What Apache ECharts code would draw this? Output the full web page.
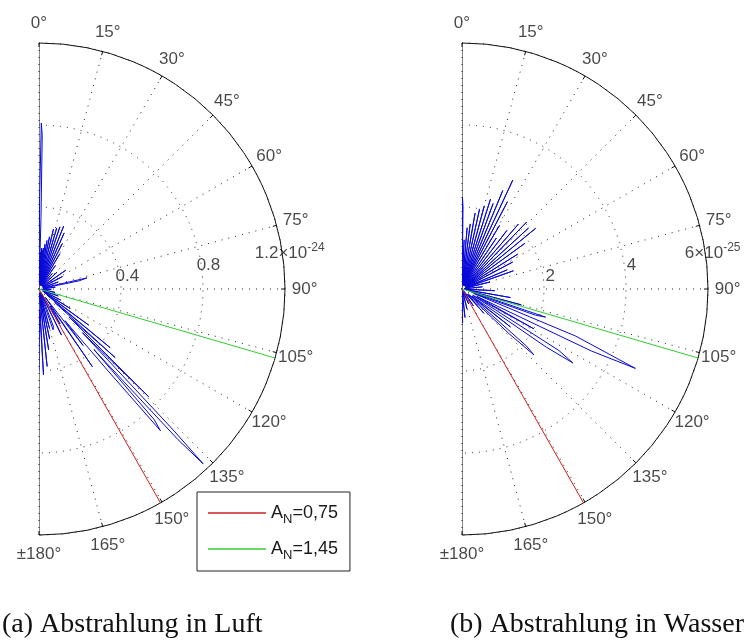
<!DOCTYPE html>
<html>
<head>
<meta charset="utf-8">
<script src="https://cdn.jsdelivr.net/npm/echarts@6/dist/echarts.min.js"></script>
<style>
html,body{margin:0;padding:0;background:#fff;}
#c{width:746px;height:644px;}
</style>
</head>
<body>
<div id="c"></div>
<script>
// ---- data ----
const angleTicks = [0, 15, 30, 45, 60, 75, 90, 105, 120, 135, 150, 165, 180];
const angleTickLabels = ['0°', '15°', '30°', '45°', '60°', '75°', '90°', '105°', '120°', '135°', '150°', '165°', '±180°'];
const airMax = 1.2;            // ×10^-24
const airRings = [0.4, 0.8, 1.2];
const airRingLabels = ['0.4', '0.8', '1.2×10|-24'];
const waterMax = 6;            // ×10^-25
const waterRings = [2, 4, 6];
const waterRingLabels = ['2', '4', '6×10|-25'];
const legendNames = ['A_N=0,75', 'A_N=1,45'];
const redAngle = 150.4;
const greenAngle = 106.3;
const captions = ['(a) Abstrahlung in Luft', '(b) Abstrahlung in Wasser'];

// radiation pattern in air: [angle in degrees, radius ×10^-24]
const airPattern = [
  [0, 0.0], [0.4, 0.45], [0.8, 0.81], [1.2, 0.75], [1.6, 0.35], [2.0, 0.05],
  [2.6, 0.18], [3.2, 0.02], [3.8, 0.2], [4.4, 0.03], [5.0, 0.19], [5.6, 0.02],
  [6.2, 0.2], [6.8, 0.03], [7.6, 0.22], [8.4, 0.02], [9.4, 0.24], [10.2, 0.03],
  [11.4, 0.26], [12.2, 0.02], [13.6, 0.3], [14.4, 0.03], [16.2, 0.31], [17.0, 0.02],
  [18.6, 0.32], [19.4, 0.03], [21.4, 0.33], [22.4, 0.02], [24.2, 0.3], [25.2, 0.02],
  [27.2, 0.25], [28.4, 0.02], [30.6, 0.2], [32.0, 0.02], [35, 0.14], [37, 0.02],
  [40.5, 0.1], [43, 0.02], [47, 0.12], [50, 0.02], [55, 0.16], [58, 0.02],
  [62, 0.13], [65, 0.02], [70, 0.1], [74, 0.02], [77, 0.24], [78.5, 0.2], [80, 0.02],
  [84, 0.08], [88, 0.02], [93, 0.06], [97, 0.01], [102, 0.08], [106, 0.02],
  [110, 0.1], [113, 0.02], [117, 0.12], [119.5, 0.02], [122, 0.18], [124, 0.03],
  [126, 0.3], [127.5, 0.05], [129.5, 0.45], [130.5, 0.1], [132, 0.5], [133, 0.2],
  [134.5, 0.75], [135.2, 0.3], [136.4, 0.95], [136.8, 1.17], [137.3, 1.0], [137.8, 0.4],
  [138.6, 0.85], [139.4, 0.91], [139.9, 0.5], [140.6, 0.2], [142, 0.35], [143, 0.05],
  [145.5, 0.46], [146.5, 0.1], [149, 0.2], [151, 0.02], [154, 0.25], [156, 0.02],
  [159, 0.2], [161, 0.21], [162.5, 0.02], [165, 0.2], [166.5, 0.02], [168, 0.25],
  [169.5, 0.02], [171, 0.3], [172.5, 0.02], [174, 0.38], [175.5, 0.02], [177, 0.42],
  [178.5, 0.1], [180, 0.4]
];

// radiation pattern in water: [angle in degrees, radius ×10^-25]
const waterPattern = [
  [0, 0], [0.3, 2.24], [0.7, 2.0], [1.2, 0.3], [2.5, 1.2], [3.5, 0.1], [4.8, 1.5],
  [5.8, 0.1], [7.2, 1.6], [8.2, 0.1], [9.8, 1.88], [10.8, 0.1], [12.4, 2.0],
  [13.4, 0.1], [15, 2.1], [16, 0.1], [17.6, 2.3], [18.6, 0.1], [20, 2.22], [21, 0.1],
  [22.5, 2.6], [23.5, 0.1], [25, 2.93], [26, 0.1], [27.5, 2.4], [28.5, 0.1],
  [30.5, 1.8], [32, 0.1], [34, 1.5], [35.5, 0.1], [37.5, 1.8], [39, 0.1], [41, 2.1],
  [42.5, 0.1], [44, 2.27], [45.5, 0.1], [47.5, 2.2], [49, 0.1], [50.5, 2.33],
  [52, 0.1], [54, 1.9], [55.5, 0.1], [58, 1.6], [59.5, 0.1], [62, 1.4], [64, 0.1],
  [67, 1.2], [69, 0.1], [70.5, 1.33], [72, 0.1], [76, 0.7], [79, 0.05], [84, 0.5],
  [88, 0.05], [93, 0.8], [96, 0.05], [100, 1.2], [102, 0.1], [105, 1.5], [106.5, 0.2],
  [108.6, 2.15], [109.6, 1.9], [110.6, 0.3], [112.5, 3.0], [114.6, 4.65], [115.6, 3.5],
  [116.5, 0.4], [119, 2.0], [120.5, 0.3], [122.4, 2.8], [123.7, 3.25], [124.6, 2.5],
  [125.5, 0.3], [128, 1.5], [129.5, 0.2], [131.5, 2.1], [132.5, 2.38], [133.5, 1.6],
  [134.5, 0.2], [138, 0.8], [141, 0.05], [146, 0.5], [150, 0.05], [156, 0.4],
  [160, 0.05], [166, 0.5], [170, 0.05], [174, 0.7], [177, 0.1], [179, 0.83], [180, 0.5]
];

// ---- chart ----
const FONT = '"Liberation Sans", Arial, sans-serif';
const SERIF = '"Liberation Serif", "DejaVu Serif", serif';
const TXT = '#1a1a1a';
const dotted = { color: '#222', width: 1, type: [1, 6] };

function makeAngleAxis(idx) {
  return {
    polarIndex: idx, type: 'value', min: 0, max: 180, interval: 15,
    startAngle: 90, endAngle: -90, clockwise: true,
    axisLine: { show: true, lineStyle: { color: '#111', width: 1 } },
    axisTick: { show: true, inside: true, length: 4, lineStyle: { color: '#111' } },
    axisLabel: { show: false },
    splitLine: { show: true, lineStyle: dotted },
    splitArea: { show: false }
  };
}
function makeRadiusAxis(idx, max, step) {
  return {
    polarIndex: idx, type: 'value', min: 0, max: max, interval: step,
    axisLine: { show: false }, axisTick: { show: false }, axisLabel: { show: false },
    splitLine: { show: true, lineStyle: dotted }, splitArea: { show: false }
  };
}
function richLabel(s) {
  const parts = s.split('|');
  return parts.length > 1 ? '{a|' + parts[0] + '}{sup|' + parts[1] + '}' : '{a|' + s + '}';
}
const richStyles = {
  a: { fontSize: 17, fontFamily: FONT, color: TXT },
  sup: { fontSize: 12, fontFamily: FONT, color: TXT, padding: [0, 0, 12, 0] }
};
const legendRich = {
  a: { fontSize: 18, fontFamily: FONT, color: TXT },
  s: { fontSize: 13, fontFamily: FONT, color: TXT, padding: [13, 0, 0, 0] }
};

function seriesFor(idx, max, rings, ringLabels, pattern) {
  const list = [];
  // straight edge of the half disc
  list.push({
    type: 'line', coordinateSystem: 'polar', polarIndex: idx, silent: true, clip: false,
    symbol: 'none', lineStyle: { color: '#111', width: 1 }, z: 3,
    data: [[max, 0], [0, 0], [max, 180]]
  });
  // pattern
  list.push({
    type: 'line', coordinateSystem: 'polar', polarIndex: idx, silent: true, clip: false,
    symbol: 'none', lineStyle: { color: '#0a0ad8', width: 1 }, z: 4,
    data: pattern.map(p => [p[1], p[0]])
  });
  // reference directions
  list.push({
    name: legendNames[0], type: 'line', coordinateSystem: 'polar', polarIndex: idx, silent: true,
    symbol: 'none', color: '#cc2222', lineStyle: { color: '#cc2222', width: 1 }, z: 5,
    data: [[0, redAngle], [max, redAngle]]
  });
  list.push({
    name: legendNames[1], type: 'line', coordinateSystem: 'polar', polarIndex: idx, silent: true,
    symbol: 'none', color: '#33cc33', lineStyle: { color: '#33cc33', width: 1 }, z: 5,
    data: [[0, greenAngle], [max, greenAngle]]
  });
  // angle labels
  list.push({
    type: 'scatter', coordinateSystem: 'polar', polarIndex: idx, silent: true, clip: false,
    symbolSize: 1, itemStyle: { color: 'rgba(0,0,0,0)' },
    label: { show: true, position: 'inside', formatter: p => p.name, color: TXT, fontSize: 17, fontFamily: FONT },
    data: angleTicks.map((a, i) => ({ name: angleTickLabels[i], value: [max * 1.08, a] }))
  });
  // radial labels
  list.push({
    type: 'scatter', coordinateSystem: 'polar', polarIndex: idx, silent: true, clip: false,
    symbolSize: 1, itemStyle: { color: 'rgba(0,0,0,0)' },
    label: { show: true, position: 'inside', formatter: p => richLabel(p.name), rich: richStyles },
    data: rings.map((r, i) => ({ name: ringLabels[i], value: [r + max * 0.029, 82] }))
  });
  return list;
}

const chart = echarts.init(document.getElementById('c'), null, { renderer: 'canvas' });
chart.setOption({
  animation: false,
  backgroundColor: '#fff',
  polar: [
    { center: [39, 289], radius: 246 },
    { center: [462, 289], radius: 246 }
  ],
  angleAxis: [makeAngleAxis(0), makeAngleAxis(1)],
  radiusAxis: [makeRadiusAxis(0, airMax, 0.4), makeRadiusAxis(1, waterMax, 2)],
  legend: {
    show: true, orient: 'vertical', left: 197, top: 492,
    data: legendNames,
    icon: 'rect', itemWidth: 58, itemHeight: 1.5, itemGap: 14,
    padding: [12, 12, 9, 11],
    borderColor: '#222', borderWidth: 1, backgroundColor: '#fff',
    selectedMode: false,
    formatter: n => '{a|A}{s|N}{a|=' + n.split('=')[1] + '}',
    textStyle: { rich: legendRich }
  },
  title: [
    { text: captions[0], left: 2, top: 611, padding: 0,
      textStyle: { fontFamily: SERIF, fontSize: 28, fontWeight: 'normal', color: '#111' } },
    { text: captions[1], right: 2, top: 611, padding: 0,
      textStyle: { fontFamily: SERIF, fontSize: 28, fontWeight: 'normal', color: '#111' } }
  ],
  series: [
    ...seriesFor(0, airMax, airRings, airRingLabels, airPattern),
    ...seriesFor(1, waterMax, waterRings, waterRingLabels, waterPattern)
  ]
});
</script>
</body>
</html>
